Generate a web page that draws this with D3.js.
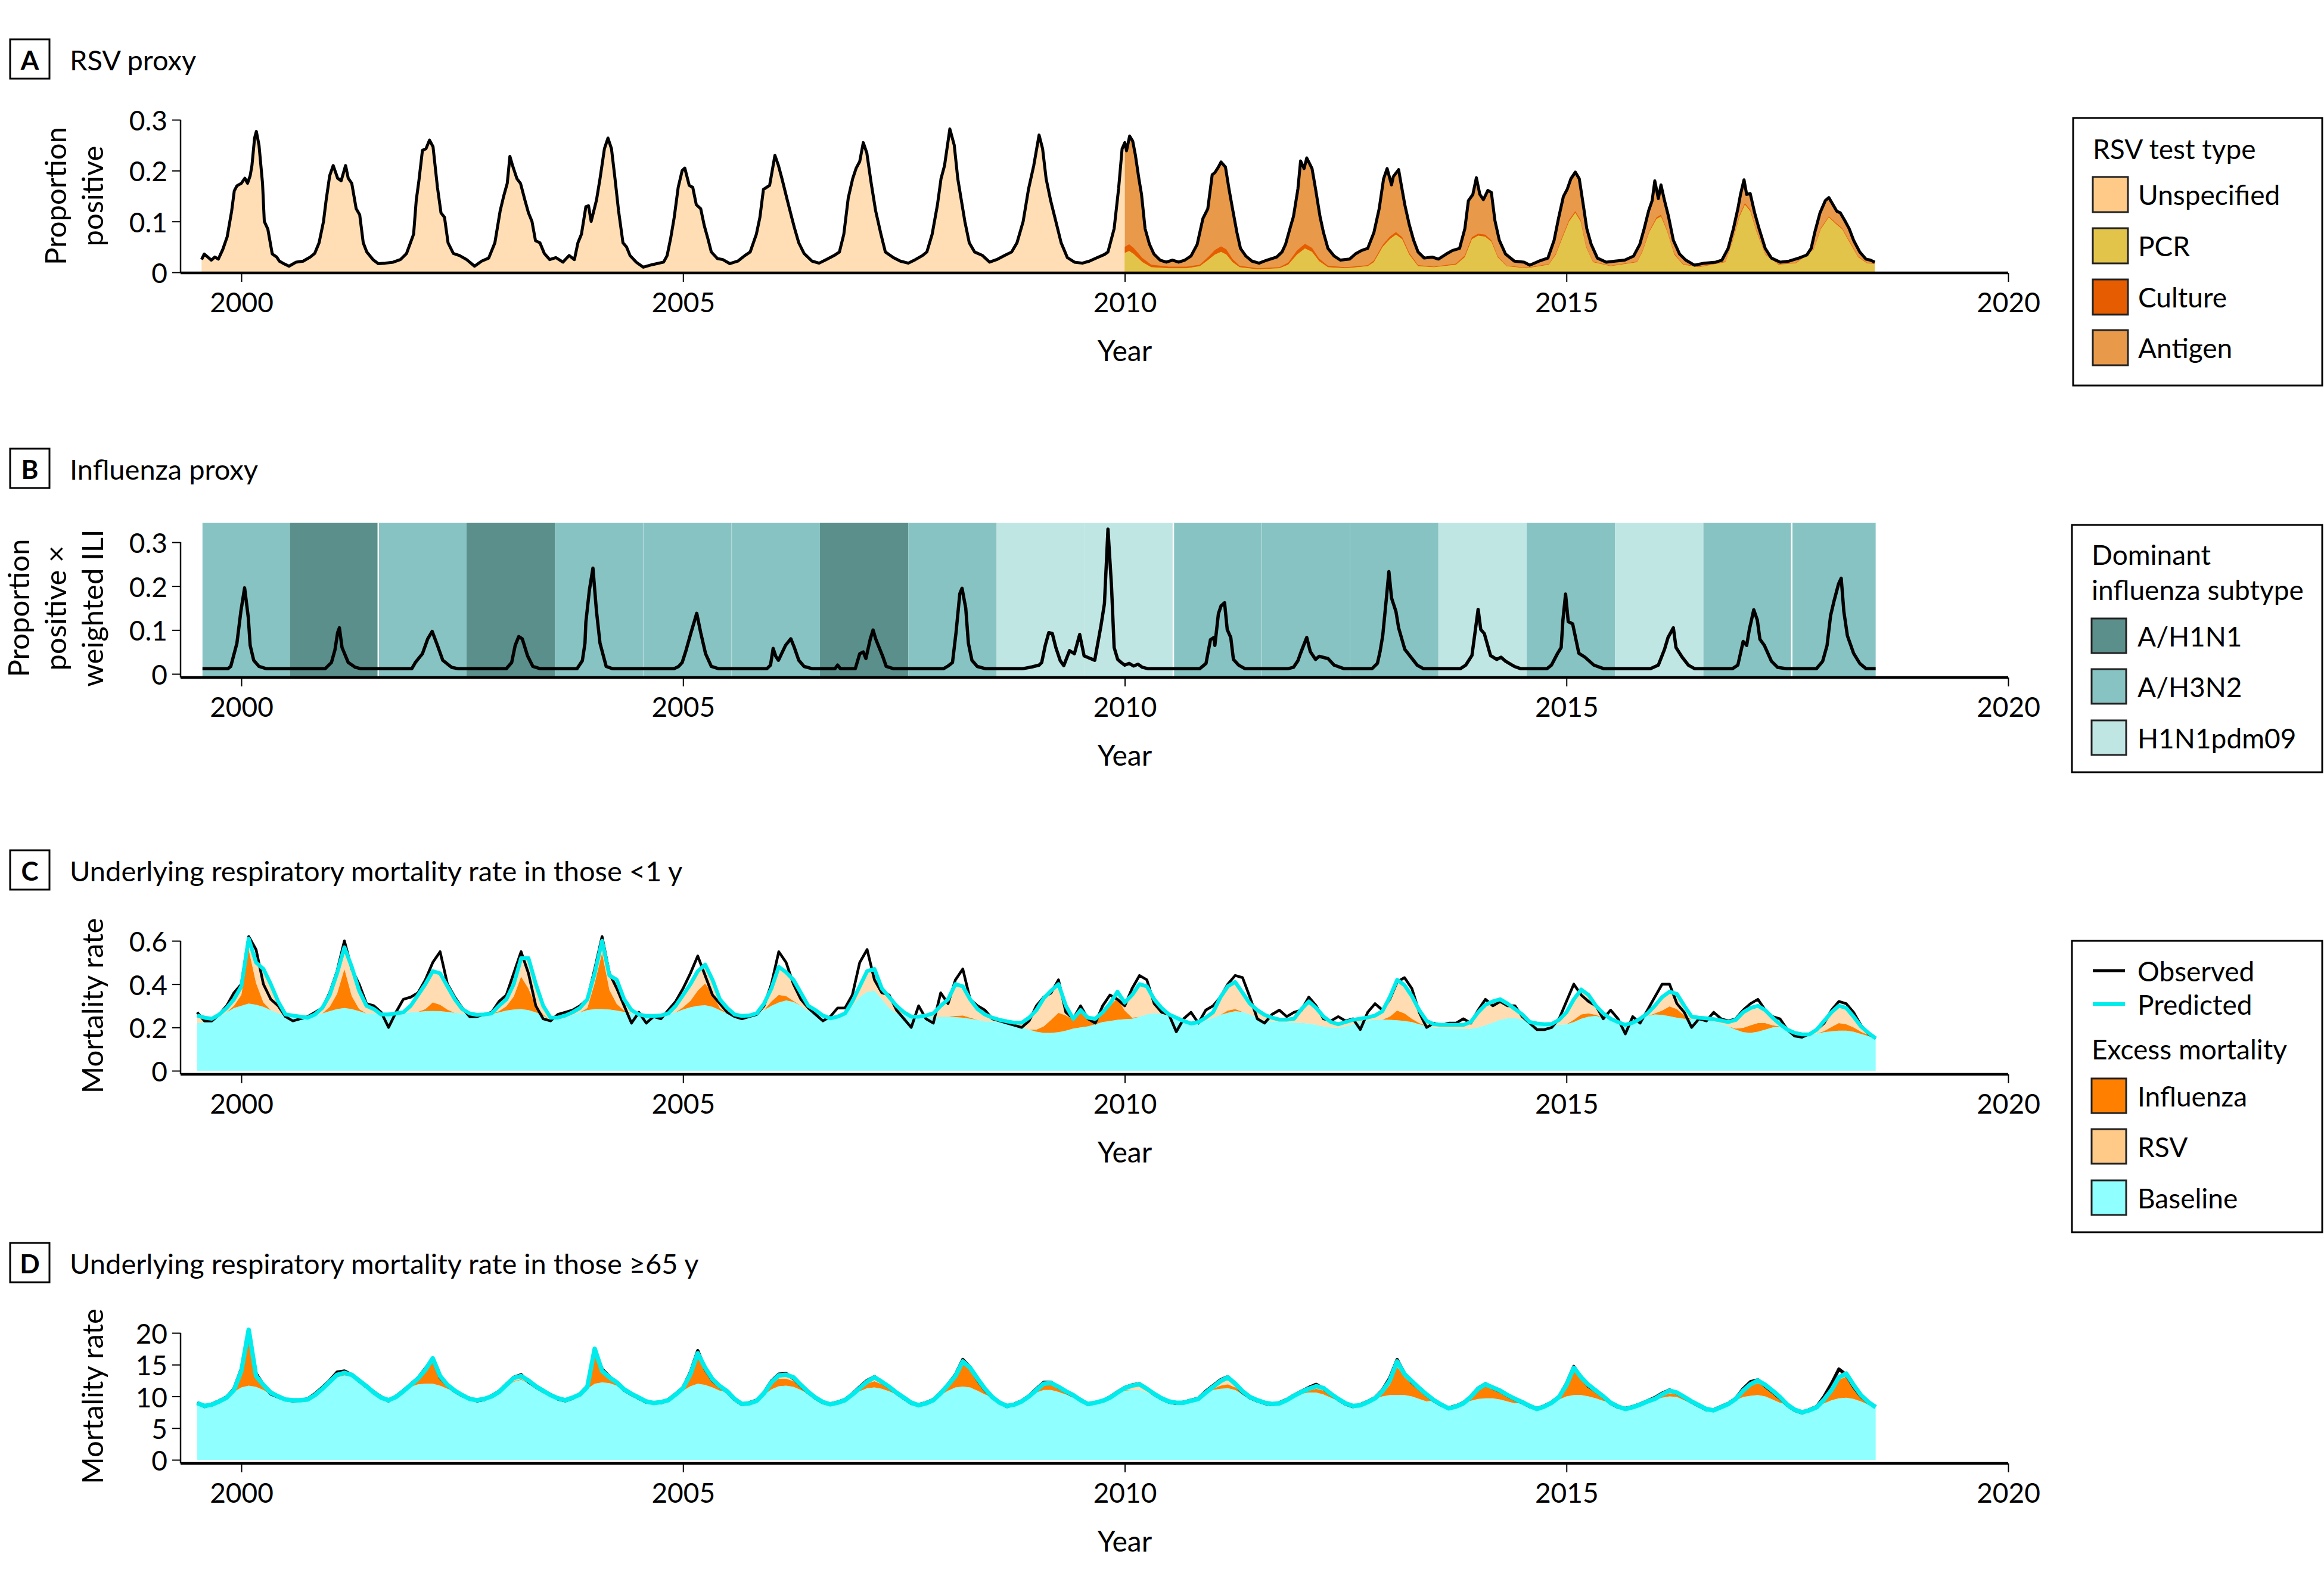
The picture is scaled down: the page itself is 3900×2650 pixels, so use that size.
<!DOCTYPE html>
<html><head><meta charset="utf-8">
<script src="https://cdn.jsdelivr.net/npm/d3@7"></script>
<style>body{margin:0;background:#fff}</style>
</head><body>
<svg id="chart" width="3900" height="2650" xmlns="http://www.w3.org/2000/svg"></svg>
<script>
// ===================== DATA =====================
const yearTicks = [2000, 2005, 2010, 2015, 2020];
const rsvTicks = [0, 0.1, 0.2, 0.3];
const fluTicks = [0, 0.1, 0.2, 0.3];
const infantTicks = [0, 0.2, 0.4, 0.6];
const elderlyTicks = [0, 5, 10, 15, 20];

const panelTitles = ["RSV proxy", "Influenza proxy",
  "Underlying respiratory mortality rate in those <1 y",
  "Underlying respiratory mortality rate in those \u226565 y"];
const panelLetters = ["A", "B", "C", "D"];

// Panel A: RSV proportion positive (all test types), [year, value]
const rsvTotal = [
[1999.55,.025],[1999.58,.036],[1999.62,.03],[1999.66,.024],[1999.70,.03],[1999.74,.026],[1999.79,.045],[1999.84,.07],[1999.89,.12],[1999.92,.16],[1999.95,.17],[2000.0,.175],[2000.04,.185],[2000.07,.175],[2000.1,.19],[2000.12,.21],[2000.15,.264],[2000.17,.277],[2000.2,.25],[2000.24,.175],[2000.26,.1],[2000.3,.085],[2000.35,.036],[2000.4,.03],[2000.43,.022],[2000.47,.018],[2000.54,.012],[2000.62,.02],[2000.7,.022],[2000.78,.03],
[2000.83,.037],[2000.88,.058],[2000.93,.1],[2000.96,.142],[2001.0,.19],[2001.04,.21],[2001.09,.185],[2001.13,.18],[2001.18,.21],[2001.21,.185],[2001.25,.175],[2001.3,.125],[2001.34,.113],[2001.38,.058],[2001.42,.04],[2001.49,.025],[2001.55,.017],[2001.63,.018],[2001.72,.02],[2001.8,.025],
[2001.87,.037],[2001.95,.075],[2001.98,.142],[2002.01,.18],[2002.05,.24],[2002.09,.243],[2002.13,.26],[2002.17,.247],[2002.22,.167],[2002.26,.117],[2002.3,.108],[2002.34,.058],[2002.4,.037],[2002.47,.033],[2002.55,.025],[2002.64,.012],[2002.72,.022],[2002.8,.028],
[2002.87,.058],[2002.93,.121],[2002.97,.15],[2003.01,.175],[2003.04,.228],[2003.07,.21],[2003.12,.184],[2003.16,.175],[2003.21,.142],[2003.25,.117],[2003.29,.1],[2003.33,.062],[2003.38,.058],[2003.43,.037],[2003.49,.025],[2003.56,.029],[2003.64,.02],[2003.71,.033],[2003.77,.025],
[2003.81,.058],[2003.85,.075],[2003.9,.129],[2003.93,.131],[2003.96,.1],[2004.02,.142],[2004.06,.184],[2004.11,.243],[2004.15,.264],[2004.19,.243],[2004.23,.184],[2004.27,.121],[2004.32,.058],[2004.36,.05],[2004.4,.033],[2004.47,.02],[2004.55,.01],[2004.65,.015],[2004.78,.02],[2004.82,.033],
[2004.86,.067],[2004.9,.108],[2004.945,.167],[2004.99,.2],[2005.02,.205],[2005.07,.171],[2005.11,.167],[2005.15,.133],[2005.2,.125],[2005.24,.092],[2005.28,.067],[2005.32,.04],[2005.39,.027],[2005.45,.025],[2005.53,.017],[2005.62,.022],[2005.7,.033],[2005.76,.04],
[2005.83,.075],[2005.87,.108],[2005.91,.163],[2005.98,.171],[2006.04,.23],[2006.08,.21],[2006.12,.184],[2006.18,.142],[2006.23,.108],[2006.26,.088],[2006.31,.058],[2006.37,.037],[2006.46,.022],[2006.54,.018],[2006.62,.025],[2006.71,.033],[2006.77,.04],
[2006.82,.075],[2006.87,.146],[2006.92,.184],[2006.96,.205],[2007.0,.218],[2007.04,.255],[2007.08,.235],[2007.13,.175],[2007.18,.121],[2007.24,.075],[2007.29,.04],[2007.38,.029],[2007.46,.022],[2007.55,.018],[2007.63,.025],[2007.71,.033],[2007.76,.04],
[2007.82,.075],[2007.88,.133],[2007.92,.184],[2007.96,.21],[2008.02,.282],[2008.07,.25],[2008.11,.184],[2008.15,.142],[2008.19,.1],[2008.24,.058],[2008.3,.04],[2008.39,.033],[2008.47,.02],[2008.55,.025],[2008.64,.033],[2008.72,.04],
[2008.78,.058],[2008.85,.1],[2008.91,.163],[2008.97,.21],[2009.03,.27],[2009.07,.243],[2009.11,.184],[2009.16,.142],[2009.22,.1],[2009.28,.058],[2009.35,.029],[2009.43,.02],[2009.52,.018],[2009.6,.022],[2009.69,.029],[2009.77,.035],
[2009.81,.04],[2009.88,.086],[2009.93,.164],[2009.97,.243],[2010.0,.255],[2010.02,.239],[2010.055,.268],[2010.09,.258],[2010.12,.231],[2010.16,.184],[2010.19,.153],[2010.23,.086],[2010.28,.055],[2010.33,.036],[2010.4,.024],[2010.47,.02],[2010.54,.024],[2010.61,.02],[2010.68,.024],[2010.75,.032],
[2010.82,.055],[2010.885,.106],[2010.94,.125],[2010.99,.192],[2011.02,.196],[2011.06,.207],[2011.09,.217],[2011.14,.207],[2011.18,.164],[2011.22,.125],[2011.27,.078],[2011.31,.047],[2011.37,.032],[2011.44,.022],[2011.52,.018],[2011.61,.024],[2011.72,.03],[2011.78,.04],
[2011.82,.055],[2011.87,.086],[2011.91,.11],[2011.96,.164],[2011.99,.219],[2012.03,.204],[2012.06,.225],[2012.12,.204],[2012.16,.164],[2012.21,.11],[2012.25,.078],[2012.3,.047],[2012.37,.032],[2012.44,.024],[2012.545,.026],[2012.61,.036],[2012.68,.043],[2012.75,.047],
[2012.82,.078],[2012.88,.125],[2012.93,.184],[2012.97,.204],[2013.02,.172],[2013.04,.188],[2013.1,.202],[2013.13,.172],[2013.17,.133],[2013.22,.094],[2013.27,.063],[2013.32,.04],[2013.39,.028],[2013.48,.03],[2013.55,.026],[2013.64,.036],[2013.71,.043],[2013.79,.047],
[2013.85,.086],[2013.89,.141],[2013.94,.153],[2013.98,.186],[2014.02,.153],[2014.06,.143],[2014.11,.161],[2014.15,.157],[2014.19,.102],[2014.24,.063],[2014.31,.036],[2014.41,.022],[2014.52,.02],[2014.585,.014],[2014.69,.022],[2014.79,.028],
[2014.86,.063],[2014.91,.106],[2014.965,.149],[2015.01,.164],[2015.05,.184],[2015.1,.197],[2015.145,.184],[2015.19,.133],[2015.23,.086],[2015.28,.055],[2015.35,.028],[2015.45,.02],[2015.55,.022],[2015.66,.024],[2015.76,.032],
[2015.83,.055],[2015.88,.086],[2015.93,.121],[2015.97,.141],[2016.0,.18],[2016.04,.145],[2016.07,.172],[2016.11,.141],[2016.155,.11],[2016.21,.063],[2016.28,.036],[2016.35,.024],[2016.45,.014],[2016.56,.018],[2016.69,.02],[2016.76,.024],
[2016.83,.047],[2016.89,.086],[2016.94,.125],[2016.97,.153],[2017.01,.182],[2017.04,.153],[2017.08,.155],[2017.13,.117],[2017.18,.086],[2017.25,.047],[2017.32,.028],[2017.42,.02],[2017.52,.022],[2017.63,.028],[2017.72,.034],
[2017.77,.047],[2017.81,.078],[2017.87,.117],[2017.93,.141],[2017.97,.147],[2018.01,.135],[2018.06,.12],[2018.1,.117],[2018.15,.102],[2018.2,.086],[2018.25,.063],[2018.32,.04],[2018.39,.026],[2018.44,.024],[2018.49,.02]
];

// Panel A: test-type breakdown from 2010 (shared dates)
const rsvTypeYears = [
2010.0,2010.05,2010.1,2010.15,2010.2,2010.3,2010.5,2010.7,
2010.85,2010.95,2011.02,2011.09,2011.15,2011.22,2011.3,2011.5,2011.75,
2011.85,2011.95,2012.04,2012.12,2012.2,2012.3,2012.5,2012.75,
2012.82,2012.92,2013.0,2013.07,2013.14,2013.22,2013.32,2013.5,2013.75,
2013.85,2013.93,2014.0,2014.08,2014.15,2014.22,2014.32,2014.55,2014.8,
2014.88,2014.96,2015.03,2015.1,2015.16,2015.22,2015.3,2015.5,2015.8,
2015.86,2015.94,2016.02,2016.07,2016.14,2016.22,2016.32,2016.5,2016.8,
2016.88,2016.96,2017.02,2017.08,2017.15,2017.25,2017.4,2017.6,2017.8,
2017.88,2017.97,2018.05,2018.12,2018.2,2018.3,2018.4,2018.49];
const rsvPCR = [
.038,.042,.036,.028,.02,.01,.008,.008,
.012,.025,.035,.04,.035,.02,.01,.006,.008,
.015,.035,.047,.04,.022,.01,.008,.012,
.02,.05,.065,.074,.065,.035,.012,.01,.015,
.03,.065,.072,.07,.06,.03,.012,.008,.015,
.035,.07,.1,.117,.1,.05,.02,.012,.02,
.04,.08,.105,.11,.08,.035,.015,.01,.02,
.06,.11,.133,.12,.08,.035,.015,.018,.045,
.085,.108,.095,.085,.06,.03,.018,.016];
const rsvCulture = [
.012,.013,.012,.01,.008,.005,.003,.003,
.003,.006,.009,.011,.01,.006,.003,.002,.002,
.004,.008,.009,.008,.005,.003,.002,.002,
.003,.004,.005,.005,.004,.003,.002,.001,.002,
.003,.004,.004,.004,.003,.002,.001,.001,.001,
.002,.003,.003,.003,.003,.002,.001,.001,.001,
.002,.002,.003,.003,.002,.002,.001,.001,.001,
.002,.003,.003,.003,.002,.001,.001,.001,.001,
.002,.002,.002,.002,.002,.001,.001,.001];
const rsvTypes = ["Unspecified", "PCR", "Culture", "Antigen"];
const rsvTypeColors = ["#FFC987", "#E3C44A", "#E65C00", "#E8994A"];

// Panel B: influenza proxy, [year, value]
const fluProxy = [
[1999.56,.012],[1999.85,.012],[1999.88,.017],[1999.95,.07],[1999.995,.143],[2000.037,.196],[2000.079,.128],[2000.1,.065],[2000.14,.031],[2000.2,.017],[2000.28,.012],
[2000.95,.012],[2001.02,.026],[2001.06,.055],[2001.09,.094],[2001.11,.105],[2001.14,.06],[2001.21,.026],[2001.29,.015],[2001.35,.012],
[2001.93,.012],[2001.97,.026],[2002.05,.046],[2002.11,.08],[2002.16,.097],[2002.22,.065],[2002.28,.031],[2002.38,.015],[2002.45,.012],
[2003.0,.012],[2003.06,.026],[2003.1,.065],[2003.14,.085],[2003.18,.08],[2003.24,.041],[2003.3,.017],[2003.38,.012],
[2003.8,.012],[2003.86,.03],[2003.89,.07],[2003.9,.118],[2003.94,.191],[2003.98,.241],[2004.02,.143],[2004.06,.07],[2004.13,.017],[2004.2,.012],
[2004.9,.012],[2004.95,.017],[2004.99,.026],[2005.03,.051],[2005.09,.094],[2005.155,.138],[2005.2,.094],[2005.255,.046],[2005.32,.017],[2005.4,.012],
[2005.95,.012],[2005.99,.02],[2006.02,.058],[2006.05,.04],[2006.08,.031],[2006.16,.065],[2006.22,.08],[2006.26,.06],[2006.31,.031],[2006.37,.017],[2006.46,.012],
[2006.72,.012],[2006.75,.02],[2006.78,.012],
[2006.95,.012],[2007.0,.046],[2007.04,.05],[2007.07,.035],[2007.12,.08],[2007.151,.1],[2007.18,.08],[2007.21,.065],[2007.26,.04],[2007.3,.017],[2007.38,.012],
[2007.95,.012],[2008.0,.018],[2008.05,.026],[2008.09,.094],[2008.133,.183],[2008.158,.195],[2008.2,.15],[2008.23,.07],[2008.27,.031],[2008.33,.017],[2008.42,.012],
[2008.85,.012],[2008.95,.016],[2009.03,.02],[2009.06,.026],[2009.1,.065],[2009.14,.094],[2009.18,.092],[2009.22,.06],[2009.27,.03],[2009.31,.019],[2009.375,.053],[2009.43,.046],[2009.49,.09],[2009.54,.041],[2009.6,.036],[2009.66,.031],[2009.73,.109],[2009.77,.16],[2009.81,.33],[2009.85,.2],[2009.88,.06],[2009.92,.033],[2009.96,.026],[2010.0,.02],[2010.05,.024],[2010.1,.018],[2010.15,.022],[2010.2,.015],[2010.26,.012],
[2010.85,.012],[2010.92,.024],[2010.97,.078],[2011.01,.083],[2011.02,.065],[2011.06,.137],[2011.09,.155],[2011.13,.162],[2011.16,.101],[2011.2,.083],[2011.23,.033],[2011.29,.02],[2011.36,.012],
[2011.85,.012],[2011.91,.015],[2011.96,.03],[2011.99,.047],[2012.06,.083],[2012.1,.051],[2012.16,.033],[2012.2,.04],[2012.3,.035],[2012.37,.02],[2012.48,.012],
[2012.8,.012],[2012.86,.024],[2012.89,.051],[2012.92,.087],[2012.96,.169],[2012.99,.233],[2013.02,.173],[2013.07,.142],[2013.1,.105],[2013.17,.056],[2013.24,.038],[2013.31,.02],[2013.38,.012],
[2013.8,.012],[2013.86,.02],[2013.93,.042],[2013.96,.087],[2014.0,.147],[2014.03,.101],[2014.07,.092],[2014.14,.042],[2014.21,.033],[2014.26,.038],[2014.31,.029],[2014.41,.017],[2014.48,.012],
[2014.78,.012],[2014.83,.02],[2014.9,.047],[2014.94,.06],[2014.96,.123],[2014.99,.182],[2015.02,.119],[2015.07,.114],[2015.14,.047],[2015.21,.038],[2015.31,.02],[2015.42,.012],
[2015.95,.012],[2016.04,.02],[2016.11,.056],[2016.15,.083],[2016.21,.105],[2016.24,.06],[2016.31,.038],[2016.38,.02],[2016.45,.012],
[2016.88,.012],[2016.94,.02],[2017.0,.074],[2017.04,.065],[2017.07,.101],[2017.12,.146],[2017.16,.123],[2017.19,.079],[2017.24,.065],[2017.32,.029],[2017.39,.015],[2017.49,.012],
[2017.83,.012],[2017.9,.029],[2017.95,.065],[2017.99,.133],[2018.03,.167],[2018.08,.205],[2018.11,.218],[2018.14,.142],[2018.18,.087],[2018.25,.047],[2018.32,.024],[2018.39,.012],[2018.5,.012]
];
const fluSeasonStarts = [1999.56,2000.55,2001.55,2002.55,2003.55,2004.55,2005.55,2006.55,2007.55,2008.55,2009.55,2010.55,2011.55,2012.55,2013.55,2014.55,2015.55,2016.55,2017.55];
const fluSeasonEnd = 2018.5;
const fluSeasonSubtypes = ["A/H3N2","A/H1N1","A/H3N2","A/H1N1","A/H3N2","A/H3N2","A/H3N2","A/H1N1","A/H3N2","H1N1pdm09","H1N1pdm09","A/H3N2","A/H3N2","A/H3N2","H1N1pdm09","A/H3N2","H1N1pdm09","A/H3N2","A/H3N2"];
const fluSubtypes = ["A/H1N1", "A/H3N2", "H1N1pdm09"];
const fluSubtypeColors = ["#5A8F8B", "#87C3C2", "#C0E6E4"];
const fluDividers = [2001.55, 2010.55, 2017.55];
const fluFaintDividers = [2004.55, 2005.55, 2011.55];

// Panels C & D: monthly values starting July 1999
const mortStartYear = 1999.5;
const infantBaseline = [
.22,.225,.235,.25,.27,.29,.30,.31,.305,.295,.28,.265,
.255,.25,.25,.245,.255,.265,.275,.285,.29,.285,.275,.265,
.265,.26,.26,.262,.265,.27,.272,.275,.276,.275,.272,.268,
.265,.262,.258,.26,.262,.27,.278,.283,.285,.28,.27,.255,
.232,.235,.245,.258,.27,.28,.285,.285,.283,.278,.272,.265,
.26,.253,.253,.255,.26,.27,.283,.293,.30,.303,.295,.28,
.265,.252,.248,.25,.26,.28,.30,.315,.325,.318,.30,.275,
.275,.25,.24,.245,.26,.30,.34,.365,.37,.33,.29,.265,
.26,.25,.248,.248,.248,.248,.248,.248,.245,.24,.235,.228,
.228,.222,.218,.21,.20,.19,.18,.175,.175,.178,.185,.195,
.20,.205,.215,.225,.23,.235,.238,.24,.25,.26,.266,.262,
.25,.24,.228,.218,.222,.232,.245,.258,.268,.275,.272,.26,
.245,.232,.228,.226,.224,.222,.221,.218,.212,.205,.20,.198,
.205,.215,.225,.232,.235,.236,.235,.233,.23,.225,.215,.208,
.20,.198,.196,.195,.194,.194,.20,.21,.222,.235,.242,.244,
.235,.222,.216,.214,.213,.212,.215,.225,.24,.25,.253,.245,
.235,.222,.212,.222,.24,.252,.26,.258,.252,.245,.24,.237,
.235,.232,.228,.218,.205,.19,.178,.175,.18,.19,.20,.205,
.19,.175,.168,.168,.172,.178,.182,.185,.185,.18,.17,.16,.148];
const infantFlu = [
0,0,0,0,0,.01,.05,.25,.10,.02,0,0,
0,0,0,0,0,0,.02,.07,.18,.06,.01,0,
0,0,0,0,0,0,0,.01,.04,.03,.01,0,
0,0,0,0,0,.005,.02,.06,.15,.1,.03,.005,
0,0,0,0,0,.01,.12,.26,.09,.03,.005,0,
0,0,0,0,0,0,.01,.03,.07,.10,.06,.01,
0,0,0,0,0,0,.02,.035,.02,.005,0,0,
0,0,0,0,0,0,0,0,0,0,0,0,
0,0,0,0,0,0,0,.005,.01,.005,0,0,
0,0,0,0,0,0,.01,.03,.06,.09,.07,.04,
.08,.04,.02,.04,.07,.10,.04,.005,0,0,0,0,
0,0,0,0,0,0,0,0,.01,.01,0,0,
0,0,0,0,0,0,0,0,0,0,0,0,
0,0,0,0,0,0,.015,.045,.035,.015,.005,0,
0,0,0,0,0,0,0,0,0,0,0,0,
0,0,0,0,0,0,0,.01,.02,.015,.005,0,
0,0,0,0,0,0,.005,.02,.045,.04,.015,0,
0,0,0,0,0,.005,.02,.035,.04,.03,.01,0,
0,0,0,0,0,.005,.02,.035,.03,.02,.01,.005,0];
const infantRSV = [
.035,.02,.005,.01,.02,.03,.04,.05,.095,.155,.12,.055,
.005,.005,0,0,.005,.025,.055,.095,.10,.135,.085,.035,
.02,0,0,.003,.005,.03,.078,.115,.144,.145,.108,.062,
.02,.003,0,0,.003,.025,.032,.057,.085,.14,.10,.04,
.013,.01,.01,.012,.02,.04,.045,.055,.067,.112,.053,.015,
0,0,0,0,.005,.03,.057,.077,.09,.087,.065,.04,
.025,.008,.005,.005,.005,.03,.06,.13,.11,.097,.06,.025,
.005,.005,.002,.005,.005,.02,.05,.095,.10,.05,.05,.035,
.01,0,.002,.007,.017,.052,.082,.147,.135,.085,.05,.032,
.017,.013,.01,.012,.022,.055,.09,.13,.135,.132,.045,.005,
0,0,.005,.005,.01,.03,.037,.105,.15,.13,.064,.028,
.01,.005,.002,0,.003,.013,.025,.082,.112,.125,.088,.05,
.035,.026,.017,.01,.012,.018,.064,.102,.078,.045,.025,.017,
.02,.02,.015,.014,.02,.039,.09,.142,.13,.105,.06,.022,
.015,.014,.016,.017,.018,.031,.07,.095,.098,.095,.068,.041,
.025,.003,.002,.001,.003,.023,.055,.095,.115,.085,.042,.02,
.005,.003,0,0,0,.013,.035,.062,.068,.07,.045,.013,
.01,.01,.01,.014,.02,.04,.072,.08,.08,.06,.035,.01,
0,0,0,0,.018,.047,.068,.08,.075,.05,.025,.01,.002];
const infantObserved = [
.27,.23,.23,.26,.30,.36,.40,.62,.56,.40,.33,.30,
.25,.23,.24,.25,.27,.29,.36,.46,.60,.47,.40,.31,
.30,.27,.20,.27,.33,.34,.36,.42,.50,.55,.40,.34,
.29,.25,.25,.26,.27,.32,.35,.45,.55,.45,.30,.24,
.23,.26,.27,.28,.30,.33,.47,.62,.45,.38,.30,.22,
.27,.22,.25,.24,.28,.32,.38,.45,.53,.44,.35,.31,
.27,.25,.24,.25,.26,.30,.40,.55,.50,.40,.33,.29,
.26,.23,.25,.29,.29,.35,.50,.56,.42,.36,.35,.28,
.24,.20,.30,.24,.22,.36,.31,.42,.47,.33,.30,.28,
.24,.23,.22,.21,.20,.23,.30,.34,.36,.42,.27,.24,
.30,.24,.22,.30,.35,.33,.30,.38,.44,.42,.31,.27,
.26,.18,.24,.27,.22,.28,.30,.34,.40,.44,.43,.34,
.24,.22,.26,.28,.25,.27,.28,.34,.30,.24,.23,.25,
.23,.24,.19,.27,.31,.28,.33,.41,.43,.38,.27,.20,
.22,.21,.22,.22,.24,.22,.28,.33,.30,.32,.30,.30,
.25,.22,.19,.19,.20,.24,.32,.40,.35,.32,.30,.24,
.28,.24,.17,.25,.22,.28,.34,.40,.40,.31,.27,.20,
.24,.23,.27,.24,.23,.24,.28,.31,.33,.28,.25,.24,
.19,.16,.155,.17,.19,.22,.28,.32,.31,.27,.21,.17,.15];

const elderlyBaseline = [
8.95,8.5,8.7,9.2,9.8,10.7,11.4,11.7,11.5,11.0,10.3,9.8,
9.5,9.4,9.4,9.5,10.2,11.1,12.1,13.0,13.3,13.1,12.3,11.5,
10.6,9.8,9.4,9.9,10.8,11.5,11.9,12.0,12.0,11.7,11.2,10.7,
10.2,9.6,9.4,9.6,10.0,10.6,11.5,12.3,12.6,12.1,11.3,10.7,
10.2,9.7,9.4,9.8,10.3,11.2,12.0,12.2,12.1,11.7,10.9,10.3,
9.8,9.2,8.95,9.1,9.4,10.1,10.9,11.6,12.0,11.8,11.4,10.9,
10.8,9.6,8.8,8.9,9.3,10.2,11.1,11.6,11.7,11.5,11.0,10.4,
9.8,9.1,8.75,9.0,9.4,10.1,10.8,11.3,11.4,11.2,10.8,10.3,
9.8,9.0,8.6,8.9,9.4,10.2,10.9,11.4,11.55,11.4,10.9,10.3,
9.9,9.0,8.5,8.7,9.2,9.9,10.6,11.0,11.0,10.7,10.3,9.8,
9.4,8.8,8.9,9.2,9.6,10.3,10.9,11.0,11.0,10.6,10.0,9.5,
9.2,9.0,9.0,9.3,9.6,10.4,11.0,11.2,11.3,11.0,10.3,9.6,
9.4,9.0,8.8,8.9,9.4,10.0,10.4,10.6,10.6,10.3,9.8,9.3,
8.9,8.5,8.6,9.1,9.6,10.0,10.2,10.2,10.2,10.0,9.6,9.2,
9.4,8.7,8.1,8.4,8.9,9.3,9.6,9.7,9.7,9.5,9.2,8.9,
9.1,8.5,8.0,8.4,9.0,9.5,10.0,10.2,10.2,10.0,9.7,9.3,
9.0,8.4,8.0,8.3,8.7,9.1,9.5,9.8,10.0,9.9,9.4,8.9,
8.6,8.0,7.8,8.3,8.8,9.4,9.9,10.1,10.2,10.0,9.5,9.0,
8.7,7.9,7.5,7.8,8.3,8.9,9.4,9.7,9.8,9.6,9.2,8.7,8.3];
const elderlyFlu = [
0,0,0,0,0,.2,2.4,8.4,1.5,.5,.1,0,
0,0,0,0,0,0,0,.1,.1,.1,0,0,
0,0,0,0,0,.2,.7,1.9,3.6,1.2,.4,.1,
0,0,0,0,0,0,0,.1,.1,.1,0,0,
0,0,0,0,0,.2,5.3,1.6,.6,.3,.1,0,
0,0,0,0,0,.1,.2,1.5,4.4,2.3,1.0,.5,
0,0,0,0,0,.2,.8,1.2,1.1,.9,.4,.1,
0,0,0,0,0,.1,.3,.7,1.0,.7,.4,.1,
0,0,0,0,0,.2,.7,1.6,3.6,2.8,1.6,.7,
0,0,0,0,0,0,.2,.7,.8,.5,.2,.1,
0,0,.1,.1,.2,.2,.1,0,0,0,0,0,
0,0,0,0,0,0,.2,.5,.6,.4,.1,0,
0,0,0,0,0,0,.1,.3,.6,.6,.3,.1,
0,0,0,0,0,.4,1.6,4.5,2.8,1.9,1.3,.8,
0,0,0,0,0,.4,1.3,1.9,1.4,1.1,.7,.5,
0,0,0,0,0,.3,1.6,4.0,2.6,1.6,1.0,.6,
0,0,0,0,0,0,0,.2,.5,.4,.2,.1,
0,0,0,0,0,.1,.8,1.5,1.9,1.5,1.1,.7,
0,0,0,0,0,.4,1.3,2.9,3.3,1.8,.7,.3,0];
const elderlyRSV = [
0,0,0,0,0,.1,.2,.4,.2,.3,.2,.2,
0,0,0,0,0,.1,.2,.3,.3,.2,.2,.1,
0,0,0,0,0,.1,.2,.3,.4,.3,.2,.1,
0,0,0,0,0,.1,.3,.5,.5,.3,.3,.2,
0,0,0,0,0,.1,.2,.2,.3,.2,.1,.1,
0,0,0,0,0,.1,.2,.4,.4,.4,.3,.2,
0,0,0,0,0,.1,.3,.5,.6,.6,.4,.2,
0,0,0,0,0,.1,.2,.3,.6,.4,.3,.2,
0,0,0,0,0,.1,.2,.2,.35,.3,.3,.2,
0,0,0,0,0,.1,.2,.3,.3,.3,.3,.3,
0,0,0,0,0,.1,.3,.7,.9,.6,.4,.2,
0,0,0,0,0,.2,.3,.7,1.1,.6,.4,.3,
0,0,0,0,0,.1,.2,.3,.4,.4,.3,.2,
0,0,0,0,.1,.4,.7,.8,.5,.5,.4,.3,
0,0,0,0,0,.2,.3,.3,.3,.3,.3,.2,
0,0,0,0,0,.1,.2,.3,.2,.2,.2,.1,
0,0,0,0,0,.1,.1,.3,.4,.3,.3,.2,
0,0,0,0,0,.1,.2,.3,.4,.3,.3,.2,
0,0,0,0,0,.2,.3,.4,.5,.4,.3,.1,0];
const elderlyObserved = [
9.0,8.4,8.8,9.3,9.9,11.2,14.3,20.0,13.6,11.8,10.4,9.9,
9.5,9.3,9.4,9.6,10.4,11.4,12.5,13.8,14.0,13.4,12.4,11.5,
10.7,9.9,9.3,10.0,10.9,11.9,12.9,14.4,15.9,13.0,11.7,10.8,
10.1,9.7,9.3,9.5,10.1,10.8,11.9,13.0,13.4,12.3,11.5,10.8,
10.3,9.6,9.3,9.7,10.4,11.6,17.3,14.3,13.1,12.1,11.0,10.3,
9.7,9.1,9.0,9.0,9.5,10.4,11.4,13.8,17.2,14.3,12.5,11.5,
10.7,9.5,8.7,9.0,9.4,10.6,12.4,13.5,13.6,12.8,11.6,10.6,
9.7,9.0,8.8,9.1,9.5,10.4,11.5,12.5,13.1,12.2,11.4,10.5,
9.7,8.9,8.7,9.0,9.5,10.6,11.9,13.4,15.8,14.6,12.6,11.0,
9.8,9.1,8.4,8.8,9.3,10.1,11.2,12.2,12.2,11.4,10.7,10.1,
9.5,8.7,9.0,9.3,9.9,10.7,11.4,11.8,12.0,11.2,10.3,9.6,
9.1,8.9,9.1,9.4,9.7,10.8,11.7,12.6,13.1,11.9,10.6,9.8,
9.3,8.9,8.7,9.0,9.5,10.2,10.8,11.4,11.9,11.2,10.3,9.5,
8.8,8.4,8.7,9.2,9.8,11.0,12.9,15.8,13.6,12.2,11.2,10.2,
9.3,8.6,8.2,8.5,9.0,10.0,11.3,12.0,11.3,10.8,10.1,9.5,
9.0,8.4,8.1,8.5,9.1,10.0,12.0,14.7,13.0,11.6,10.8,9.9,
8.9,8.3,8.1,8.4,8.8,9.3,9.8,10.5,11.0,10.5,9.8,9.1,
8.5,7.9,7.9,8.4,8.9,9.7,11.2,12.3,12.6,11.6,10.7,9.7,
8.6,7.8,7.4,7.9,8.4,10.0,12.0,14.3,13.4,11.5,10.0,9.0,8.4];

const excessLabels = ["Influenza", "RSV", "Baseline"];
const excessColors = ["#FF8000", "#FFC987", "#8FFFFF"];
const lineLabels = ["Observed", "Predicted"];
const lineColors = ["#000000", "#00EBEB"];

// ===================== DRAWING =====================
const FONT = "Lato, 'Open Sans', 'DejaVu Sans', sans-serif";
const svg = d3.select("#chart");
svg.append("rect").attr("width", 3900).attr("height", 2650).attr("fill", "#fff");

const x = d3.scaleLinear().domain([2000, 2020]).range([405, 3370]);
const axisLeftX = 303;

function txt(g, s, px, py, size, opts = {}) {
  const t = g.append("text").attr("x", px).attr("y", py).text(s)
    .attr("font-family", FONT).attr("font-size", size).attr("fill", "#000");
  if (opts.anchor) t.attr("text-anchor", opts.anchor);
  if (opts.baseline) t.attr("dominant-baseline", opts.baseline);
  if (opts.weight) t.attr("font-weight", opts.weight);
  if (opts.rotate) t.attr("transform", `rotate(-90,${px},${py})`);
  return t;
}

function panelHeader(i, centerY) {
  const g = svg.append("g");
  g.append("rect").attr("x", 17).attr("y", centerY - 33).attr("width", 66).attr("height", 66)
    .attr("fill", "#fff").attr("stroke", "#000").attr("stroke-width", 3);
  txt(g, panelLetters[i], 50, centerY + 1, 44, {anchor: "middle", baseline: "central", weight: "bold"});
  txt(g, panelTitles[i], 117, centerY + 1, 47, {baseline: "central"});
}

function axes(y, ticks, fmt, axisY, yTitleLines, yTitleX) {
  const g = svg.append("g");
  const xa = g.append("g").attr("transform", `translate(0,${axisY})`)
    .call(d3.axisBottom(x).tickValues(yearTicks).tickSize(15).tickSizeOuter(0).tickFormat(d3.format("d")));
  xa.select(".domain").remove();
  xa.selectAll(".tick line").attr("stroke", "#000").attr("stroke-width", 2);
  xa.selectAll(".tick text").attr("y", 48).attr("dy", null).attr("dominant-baseline", "central")
    .attr("font-family", FONT).attr("font-size", 46).attr("fill", "#000");
  g.append("line").attr("x1", axisLeftX).attr("x2", x(2020)).attr("y1", axisY).attr("y2", axisY)
    .attr("stroke", "#000").attr("stroke-width", 4.5);
  const ya = g.append("g").attr("transform", `translate(${axisLeftX},0)`)
    .call(d3.axisLeft(y).tickValues(ticks).tickSize(14).tickSizeOuter(0).tickFormat(fmt));
  ya.select(".domain").remove();
  ya.selectAll(".tick line").attr("stroke", "#000").attr("stroke-width", 2);
  ya.selectAll(".tick text").attr("x", -22).attr("dy", null).attr("dominant-baseline", "central")
    .attr("font-family", FONT).attr("font-size", 46).attr("fill", "#000");
  g.append("line").attr("x1", axisLeftX).attr("x2", axisLeftX)
    .attr("y1", y(d3.max(ticks))).attr("y2", axisY).attr("stroke", "#000").attr("stroke-width", 2.5);
  txt(g, "Year", x(2010), axisY + 129, 48, {anchor: "middle", baseline: "central"});
  const cy = (y(d3.max(ticks)) + y(0)) / 2;
  yTitleLines.forEach((s, k) => {
    txt(g, s, yTitleX[k], cy, 49, {anchor: "middle", baseline: "central", rotate: true});
  });
}

const fmt1 = d => d === 0 ? "0" : d3.format(".1f")(d);

// ---------- Panel A ----------
panelHeader(0, 99);
const yA = d3.scaleLinear().domain([0, 0.3]).range([457, 201]);
{
  const g = svg.append("g");
  const pts = rsvTotal.map(d => ({t: d[0], v: d[1]}));
  const areaA = d3.area().x(d => x(d.t)).y0(yA(0)).y1(d => yA(d.v));
  g.append("path").datum(pts.filter(d => d.t <= 2010)).attr("d", areaA)
    .attr("fill", rsvTypeColors[0]).attr("fill-opacity", 0.62);
  g.append("path").datum(pts.filter(d => d.t >= 2010)).attr("d", areaA)
    .attr("fill", rsvTypeColors[3]);
  const typeRows = rsvTypeYears.map((t, i) => ({t, p: rsvPCR[i], c: rsvCulture[i]}));
  g.append("path").datum(typeRows)
    .attr("d", d3.area().x(d => x(d.t)).y0(d => yA(d.p)).y1(d => yA(d.p + d.c)))
    .attr("fill", rsvTypeColors[2]);
  g.append("path").datum(typeRows)
    .attr("d", d3.area().x(d => x(d.t)).y0(yA(0)).y1(d => yA(d.p)))
    .attr("fill", rsvTypeColors[1]);
  g.append("path").datum(pts).attr("d", d3.line().x(d => x(d.t)).y(d => yA(d.v)))
    .attr("fill", "none").attr("stroke", "#000").attr("stroke-width", 5).attr("stroke-linejoin", "round");
}
axes(yA, rsvTicks, fmt1, 458, ["Proportion", "positive"], [92, 154]);

// ---------- Panel B ----------
panelHeader(1, 786);
const yB = d3.scaleLinear().domain([0, 0.3]).range([1131, 910]);
const bandTopValue = 0.344;
const axisYB = 1137;
{
  const g = svg.append("g");
  const col = d3.scaleOrdinal().domain(fluSubtypes).range(fluSubtypeColors);
  fluSeasonStarts.forEach((s, i) => {
    const e = i + 1 < fluSeasonStarts.length ? fluSeasonStarts[i + 1] : fluSeasonEnd;
    g.append("rect").attr("x", x(s)).attr("width", x(e) - x(s))
      .attr("y", yB(bandTopValue)).attr("height", axisYB - yB(bandTopValue))
      .attr("fill", col(fluSeasonSubtypes[i]));
  });
  fluDividers.forEach(d => g.append("line").attr("x1", x(d)).attr("x2", x(d))
    .attr("y1", yB(bandTopValue)).attr("y2", axisYB).attr("stroke", "#fff").attr("stroke-width", 2.5));
  fluFaintDividers.forEach(d => g.append("line").attr("x1", x(d)).attr("x2", x(d))
    .attr("y1", yB(bandTopValue)).attr("y2", axisYB).attr("stroke", "#fff").attr("stroke-width", 1.5).attr("stroke-opacity", 0.25));
  g.append("path").datum(fluProxy).attr("d", d3.line().x(d => x(d[0])).y(d => yB(d[1])))
    .attr("fill", "none").attr("stroke", "#000").attr("stroke-width", 5.5).attr("stroke-linejoin", "round");
}
axes(yB, fluTicks, fmt1, axisYB, ["Proportion", "positive \u00d7", "weighted ILI"], [30, 92, 154]);

// ---------- Panels C & D ----------
function mortRows(base, flu, rsv, obs) {
  const n = Math.min(base.length, flu.length, rsv.length, obs.length);
  return d3.range(n).map(i => ({t: mortStartYear + i / 12, b: base[i], f: flu[i], r: rsv[i], o: obs[i]}));
}
function mortPanel(rows, y, obsW, predW) {
  const g = svg.append("g");
  const ax = d => x(d.t);
  g.append("path").datum(rows).attr("d", d3.area().x(ax).y0(y(0)).y1(d => y(d.b))).attr("fill", excessColors[2]);
  g.append("path").datum(rows).attr("d", d3.area().x(ax).y0(d => y(d.b)).y1(d => y(d.b + d.f))).attr("fill", excessColors[0]);
  g.append("path").datum(rows).attr("d", d3.area().x(ax).y0(d => y(d.b + d.f)).y1(d => y(d.b + d.f + d.r)))
    .attr("fill", excessColors[1]).attr("fill-opacity", 0.65);
  g.append("path").datum(rows).attr("d", d3.line().x(ax).y(d => y(d.o)))
    .attr("fill", "none").attr("stroke", lineColors[0]).attr("stroke-width", obsW).attr("stroke-linejoin", "round");
  g.append("path").datum(rows).attr("d", d3.line().x(ax).y(d => y(d.b + d.f + d.r)))
    .attr("fill", "none").attr("stroke", lineColors[1]).attr("stroke-width", predW).attr("stroke-linejoin", "round");
}

panelHeader(2, 1460);
const yC = d3.scaleLinear().domain([0, 0.6]).range([1797, 1579]);
mortPanel(mortRows(infantBaseline, infantFlu, infantRSV, infantObserved), yC, 4.5, 6.5);
axes(yC, infantTicks, fmt1, 1803, ["Mortality rate"], [154]);

panelHeader(3, 2119);
const yD = d3.scaleLinear().domain([0, 20]).range([2450, 2237]);
mortPanel(mortRows(elderlyBaseline, elderlyFlu, elderlyRSV, elderlyObserved), yD, 5.5, 7.5);
axes(yD, elderlyTicks, d3.format("d"), 2456, ["Mortality rate"], [154]);

// ---------- Legends ----------
function legendBox(x0, y0, x1, y1) {
  svg.append("rect").attr("x", x0).attr("y", y0).attr("width", x1 - x0).attr("height", y1 - y0)
    .attr("fill", "#fff").attr("stroke", "#000").attr("stroke-width", 3);
}
function swatch(px, py, size, color, label, labelX) {
  svg.append("rect").attr("x", px).attr("y", py).attr("width", size).attr("height", size)
    .attr("fill", color).attr("stroke", "#222").attr("stroke-width", 3);
  txt(svg, label, labelX, py + size / 2, 46, {baseline: "central"});
}
// Legend A
legendBox(3479, 198, 3897, 647);
txt(svg, "RSV test type", 3512, 267, 46);
[297, 383, 469, 554].forEach((py, i) => swatch(3512, py, 59, rsvTypeColors[i], rsvTypes[i], 3588));
// Legend B
legendBox(3477, 881, 3897, 1296);
txt(svg, "Dominant", 3510, 948, 46);
txt(svg, "influenza subtype", 3510, 1007, 46);
[1038, 1123, 1209].forEach((py, i) => swatch(3510, py, 58, fluSubtypeColors[i], fluSubtypes[i], 3587));
// Legend C
legendBox(3477, 1579, 3897, 2068);
[1629, 1685].forEach((py, i) => {
  svg.append("line").attr("x1", 3512).attr("x2", 3566).attr("y1", py).attr("y2", py)
    .attr("stroke", lineColors[i]).attr("stroke-width", i === 0 ? 5 : 6);
  txt(svg, lineLabels[i], 3587, py, 46, {baseline: "central"});
});
txt(svg, "Excess mortality", 3510, 1778, 46);
[1810, 1895, 1981].forEach((py, i) => swatch(3510, py, 58, excessColors[i], excessLabels[i], 3587));
</script>
</body></html>
